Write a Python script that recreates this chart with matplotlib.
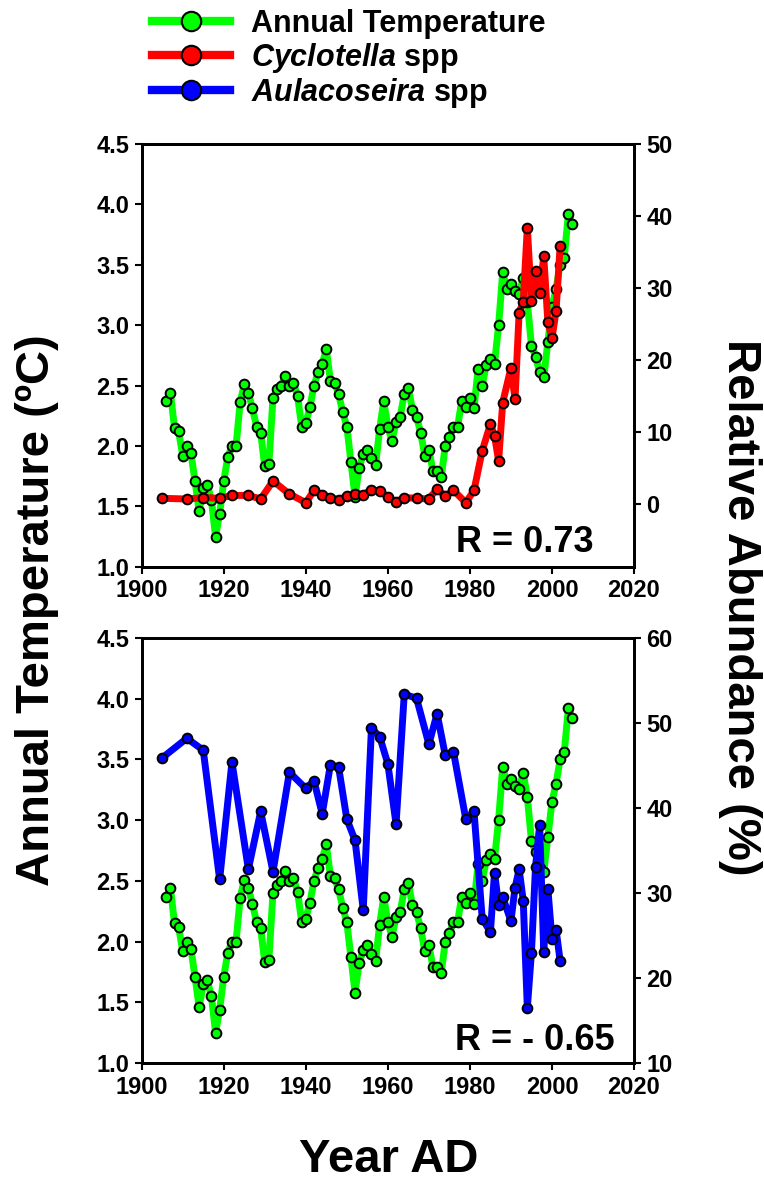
import matplotlib
matplotlib.use("Agg")
import matplotlib.pyplot as plt
from matplotlib.lines import Line2D

plt.rcParams['font.family'] = ['Liberation Sans', 'DejaVu Sans']
plt.rcParams['font.weight'] = 'bold'
plt.rcParams['mathtext.fontset'] = 'custom'
plt.rcParams['mathtext.rm'] = 'Liberation Sans:bold'
plt.rcParams['mathtext.bf'] = 'Liberation Sans:bold'
plt.rcParams['mathtext.it'] = 'Liberation Sans:italic:bold'
plt.rcParams['mathtext.bfit'] = 'Liberation Sans:italic:bold'

# annual temperature (deg C), same series in both panels
temp_years = [1906, 1907, 1908, 1909, 1910, 1911, 1912, 1913, 1914, 1915,
              1916, 1917, 1918, 1919, 1920, 1921, 1922, 1923, 1924, 1925,
              1926, 1927, 1928, 1929, 1930, 1931, 1932, 1933, 1934, 1935,
              1936, 1937, 1938, 1939, 1940, 1941, 1942, 1943, 1944, 1945,
              1946, 1947, 1948, 1949, 1950, 1951, 1952, 1953, 1954, 1955,
              1956, 1957, 1958, 1959, 1960, 1961, 1962, 1963, 1964, 1965,
              1966, 1967, 1968, 1969, 1970, 1971, 1972, 1973, 1974, 1975,
              1976, 1977, 1978, 1979, 1980, 1981, 1982, 1983, 1984, 1985,
              1986, 1987, 1988, 1989, 1990, 1991, 1992, 1993, 1994, 1995,
              1996, 1997, 1998, 1999, 2000, 2001, 2002, 2003, 2004, 2005]
temp = [2.37, 2.44, 2.15, 2.12, 1.92, 2.00, 1.94, 1.71, 1.46, 1.65,
        1.68, 1.55, 1.25, 1.44, 1.71, 1.91, 2.00, 2.00, 2.36, 2.51,
        2.44, 2.31, 2.16, 2.11, 1.83, 1.85, 2.40, 2.47, 2.50, 2.58,
        2.50, 2.52, 2.41, 2.16, 2.19, 2.32, 2.50, 2.61, 2.68, 2.80,
        2.54, 2.52, 2.43, 2.28, 2.16, 1.87, 1.58, 1.82, 1.93, 1.97,
        1.90, 1.84, 2.14, 2.37, 2.16, 2.04, 2.20, 2.24, 2.43, 2.48,
        2.30, 2.24, 2.11, 1.92, 1.97, 1.79, 1.79, 1.74, 2.00, 2.07,
        2.16, 2.16, 2.37, 2.32, 2.40, 2.31, 2.64, 2.50, 2.67, 2.72,
        2.68, 3.00, 3.44, 3.30, 3.34, 3.28, 3.26, 3.39, 3.19, 2.83,
        2.74, 2.61, 2.57, 2.86, 3.15, 3.30, 3.50, 3.56, 3.92, 3.84]

# diatom samples (relative abundance, %)
core_years = [1905, 1911, 1915, 1919, 1922, 1926, 1929, 1932, 1936, 1940,
              1942, 1944, 1946, 1948, 1950, 1952, 1954, 1956, 1958, 1960,
              1962, 1964, 1967, 1970, 1972, 1974, 1976, 1979, 1981, 1983,
              1985, 1986, 1987, 1988, 1990, 1991, 1992, 1993, 1994, 1995,
              1996, 1997, 1998, 1999, 2000, 2001, 2002]
cyclotella = [0.8, 0.7, 0.9, 0.8, 1.2, 1.2, 0.7, 3.2, 1.4, 0.2,
              1.9, 1.3, 0.9, 0.6, 1.1, 1.4, 1.3, 2.0, 1.8, 1.0,
              0.3, 0.9, 0.8, 0.7, 2.1, 1.1, 1.9, 0.2, 1.9, 7.4,
              11.1, 9.5, 6.0, 14.1, 18.9, 14.6, 26.6, 28.1, 38.4, 28.2,
              32.4, 29.3, 34.4, 25.3, 23.0, 26.8, 35.9]
aulacoseira = [45.9, 48.2, 46.8, 31.6, 45.4, 32.8, 39.6, 32.5, 44.2, 42.3,
               43.2, 39.3, 45.1, 44.8, 38.7, 36.2, 28.0, 49.4, 48.4, 45.2,
               38.1, 53.4, 52.9, 47.5, 51.1, 46.2, 46.6, 38.7, 39.6, 27.0,
               25.4, 32.4, 28.6, 29.5, 26.7, 30.6, 32.8, 29.1, 16.5, 23.0,
               33.1, 38.0, 23.1, 30.5, 24.6, 25.7, 22.0]

W, H = 764, 1183
fig = plt.figure(figsize=(W / 100, H / 100), dpi=100)

line_kw = dict(lw=5, marker='o', ms=7, mec='black', mew=1.4, solid_joinstyle='round')


def style(ax):
    ax.tick_params(labelsize=17, length=5, width=1.5, direction='out', pad=4)
    for s in ax.spines.values():
        s.set_linewidth(2)


def panel(rect, series, color, rlim, rticks, rtext, rpos):
    ax = fig.add_axes(rect)
    ax.plot(temp_years, temp, color='#00ff00', **line_kw)
    ax.set_xlim(1900, 2020)
    ax.set_ylim(1.0, 4.5)
    ax.set_xticks(range(1900, 2021, 20))
    ax.set_yticks([1.0, 1.5, 2.0, 2.5, 3.0, 3.5, 4.0, 4.5])
    ax.set_yticklabels(['1.0', '1.5', '2.0', '2.5', '3.0', '3.5', '4.0', '4.5'])
    style(ax)
    axr = ax.twinx()
    axr.plot(core_years, series, color=color, **line_kw)
    axr.set_ylim(*rlim)
    axr.set_yticks(rticks)
    style(axr)
    ax.text(rpos[0], rpos[1], rtext, transform=ax.transAxes, ha='right',
            va='baseline', fontsize=26, fontweight='bold')
    return ax, axr


panel([141.7 / W, 1 - 566.7 / H, 492.3 / W, 422.7 / H], cyclotella, '#ff0000',
      (-8.7, 50), range(0, 51, 10), 'R = 0.73', (0.917, 0.035))
panel([141.7 / W, 1 - 1063 / H, 492.3 / W, 425 / H], aulacoseira, '#0000ff',
      (10, 60), range(10, 61, 10), 'R = - 0.65', (0.961, 0.03))

fig.text(37 / W, 1 - 610 / H, 'Annual Temperature (ºC)', rotation=90,
         ha='center', va='center', fontsize=34, fontweight='bold')
fig.text(740 / W, 1 - 607 / H, 'Relative Abundance (%)', rotation=270,
         ha='center', va='center', fontsize=34, fontweight='bold')
fig.text(389 / W, 1 - 1160 / H, 'Year AD', ha='center', va='center',
         fontsize=34, fontweight='bold')

leg_kw = dict(lw=6, marker='o', ms=14, mec='black', mew=1.5)
handles = [Line2D([], [], color='#00ff00', **leg_kw),
           Line2D([], [], color='#ff0000', **leg_kw),
           Line2D([], [], color='#0000ff', **leg_kw)]
labels = ['Annual Temperature', r'$\mathbfit{Cyclotella}$ spp', r'$\mathbfit{Aulacoseira}$ spp']
fig.legend(handles, labels, loc='upper left', bbox_to_anchor=(151.7 / W, 1 - 9 / H),
           frameon=False, handlelength=2.55, handletextpad=0.7,
           labelspacing=0.05, borderpad=0, borderaxespad=0,
           prop={'weight': 'bold', 'size': 22})

fig.savefig('out.png', dpi=100)
